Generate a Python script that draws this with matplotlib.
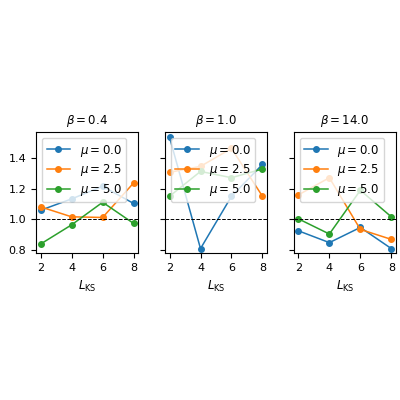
import matplotlib
matplotlib.use("Agg")
import matplotlib.pyplot as plt

L = [2, 4, 6, 8]
betas = [0.4, 1.0, 14.0]
mus = [0.0, 2.5, 5.0]
tau = {
    0.4: [[1.06, 1.134, 1.216, 1.104], [1.082, 1.017, 1.013, 1.238], [0.84, 0.965, 1.112, 0.974]],
    1.0: [[1.536, 0.81, 1.151, 1.359], [1.307, 1.346, 1.463, 1.151], [1.151, 1.313, 1.272, 1.329]],
    14.0: [[0.926, 0.849, 0.948, 0.81], [1.16, 1.272, 0.935, 0.87], [1.004, 0.905, 1.19, 1.017]],
}

fig, axes = plt.subplots(1, 3, figsize=(4, 4), dpi=100, sharey=True)
fig.subplots_adjust(left=0.09, right=0.99, bottom=0.367, top=0.67, wspace=0.26)
for ax, b in zip(axes, betas):
    for m, vals in zip(mus, tau[b]):
        ax.plot(L, vals, marker='o', markersize=4, linewidth=1.1, label=rf'$\mu = {m}$')
    ax.axhline(1.0, color='k', linestyle='--', linewidth=0.7)
    ax.set_title(rf'$\beta = {b}$', fontsize=8.5)
    ax.set_xlabel(r'$L_{\mathrm{KS}}$', fontsize=8.5)
    ax.set_xticks(L)
    ax.tick_params(labelsize=8)
    ax.legend(loc='upper left', fontsize=8.5, handlelength=2, borderpad=0.4, labelspacing=0.3)
axes[0].set_ylabel(r'$\mathrm{\tau}(1)$', fontsize=8.5)
axes[0].set_ylim(0.78, 1.57)
axes[0].set_yticks([0.8, 1.0, 1.2, 1.4])
fig.savefig("out.png")
